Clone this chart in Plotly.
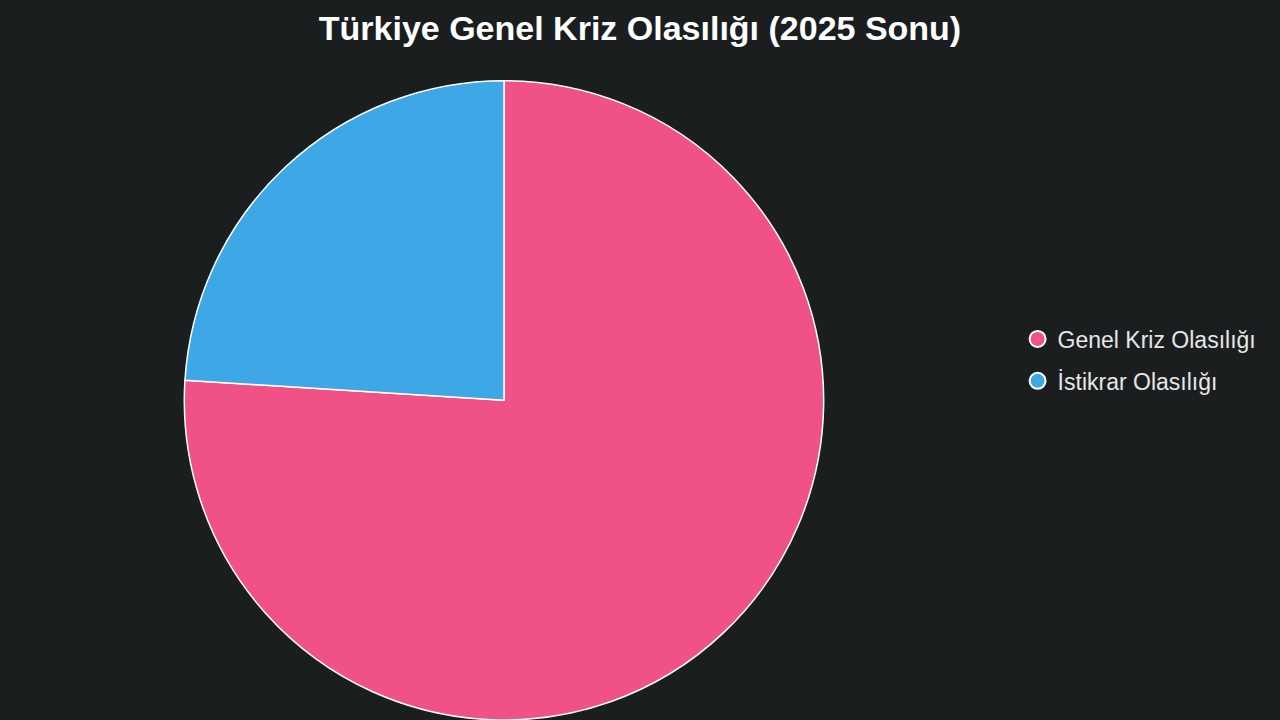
import plotly.graph_objects as go

labels = ["Genel Kriz Olasılığı", "İstikrar Olasılığı"]
values = [76, 24]
colors = ["#F05285", "#3EA8E6"]

fig = go.Figure()

fig.add_trace(go.Pie(
    labels=labels,
    values=values,
    sort=False,
    direction="clockwise",
    rotation=0,
    marker=dict(colors=colors, line=dict(color="#ffffff", width=1.5)),
    textinfo="none",
    hoverinfo="label+percent",
    showlegend=False,
    domain=dict(x=[0.14, 0.6475], y=[0.0, 0.888]),
))

# legend entries with round markers
for lab, col in zip(labels, colors):
    fig.add_trace(go.Scatter(
        x=[None], y=[None], mode="markers", name=lab, legendgroup=lab,
        marker=dict(symbol="circle", size=18, color=col,
                    line=dict(color="#ffffff", width=2)),
    ))

fig.update_layout(
    width=1280, height=720,
    paper_bgcolor="#1b1e1f",
    plot_bgcolor="#1b1e1f",
    margin=dict(l=0, r=0, t=0, b=0),
    font=dict(family="Liberation Sans, Arial, sans-serif", color="#e6e6e6"),
    title=dict(
        text="<b>Türkiye Genel Kriz Olasılığı (2025 Sonu)</b>",
        x=0.5, xanchor="center", y=0.961, yanchor="middle",
        font=dict(size=34, color="#ffffff"),
    ),
    xaxis=dict(visible=False),
    yaxis=dict(visible=False),
    legend=dict(
        x=0.795, xanchor="left", y=0.5, yanchor="middle",
        font=dict(size=23, color="#e6e6e6"),
        bgcolor="rgba(0,0,0,0)",
        tracegroupgap=9,
    ),
)

fig.write_html("out.html", config={"displayModeBar": False},
               post_script="document.body.style.margin='0';")
